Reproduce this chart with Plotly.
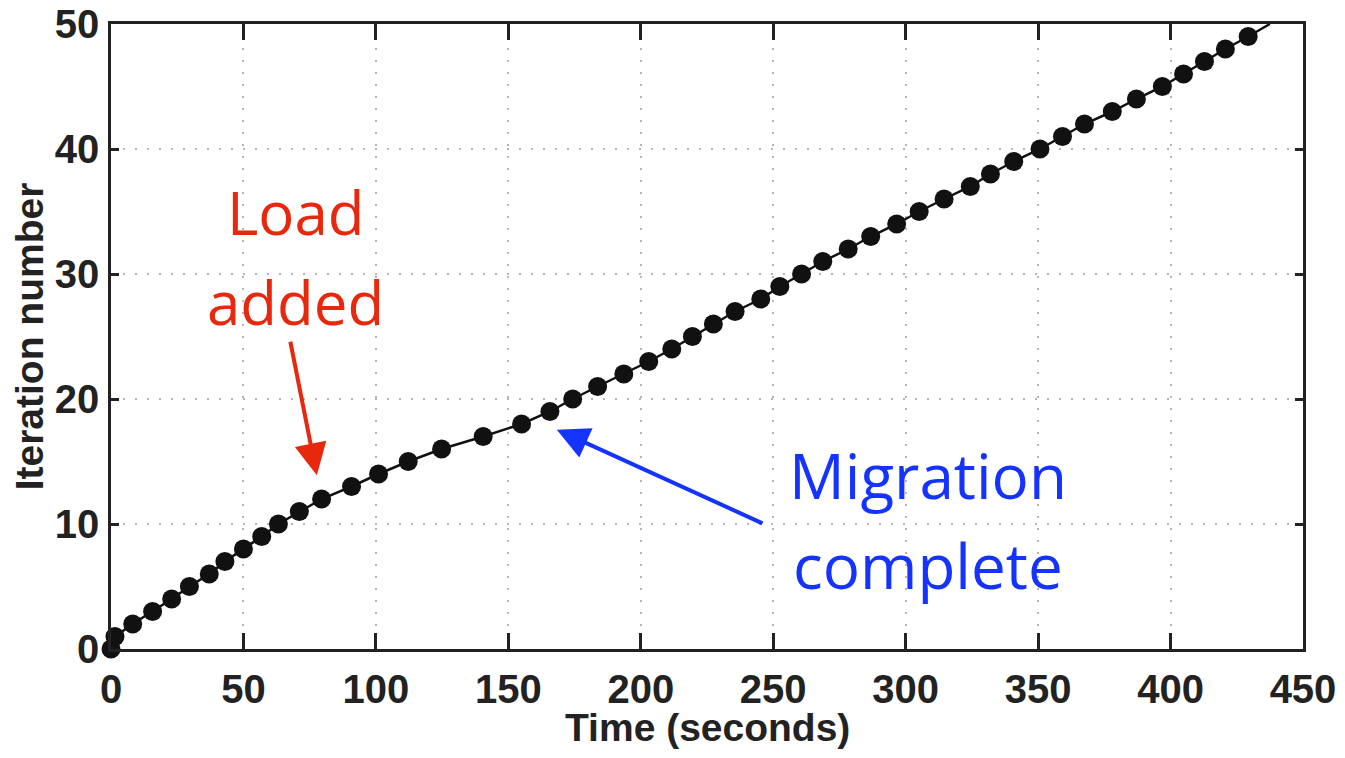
import plotly.graph_objects as go

# Data (iteration number vs time in seconds)
iterations = list(range(0, 51))
times = [0, 1.5, 8.2, 15.7, 22.9, 29.6, 37.1, 43.0, 50.0, 56.9,
         63.2, 71.1, 79.5, 90.8, 101.0, 112.2, 124.8, 140.5, 155.0, 165.7,
         174.3, 183.7, 193.6, 203.0, 211.7, 219.5, 227.4, 235.6, 245.3, 252.5,
         260.7, 268.7, 278.3, 286.8, 296.6, 305.1, 314.5, 324.4, 332.0, 340.8,
         350.7, 359.2, 367.5, 378.0, 387.1, 396.9, 404.9, 412.8, 420.7, 429.3,
         437.5]
n_marked = 50  # markers visible for iterations 0..49

x_ticks = [0, 50, 100, 150, 200, 250, 300, 350, 400, 450]
y_ticks = [0, 10, 20, 30, 40, 50]
x_title = "Time (seconds)"
y_title = "Iteration number"

AX_FONT = dict(family="Liberation Sans, Arial, sans-serif", size=40, color="#222222", weight="bold")
TITLE_FONT = dict(family="Liberation Sans, Arial, sans-serif", size=39, color="#222222", weight="bold")
HAND_FONT = "Open Sans, Lato, sans-serif"
RED = "#e8280c"
BLUE = "#1433ff"

fig = go.Figure()
fig.add_trace(go.Scatter(x=times, y=iterations, mode="lines",
                         line=dict(color="#111111", width=2.5),
                         cliponaxis=True, showlegend=False, hoverinfo="skip"))
fig.add_trace(go.Scatter(x=times[:n_marked], y=iterations[:n_marked], mode="markers",
                         marker=dict(color="#111111", size=19, symbol="circle"),
                         cliponaxis=False, showlegend=False))

axis_common = dict(showline=True, linecolor="#222222", linewidth=2.5, mirror="ticks",
                   ticks="inside", tickwidth=2.5, tickcolor="#222222",
                   showgrid=True, gridcolor="#b5b5b5", gridwidth=1.6, griddash="2px,10px",
                   zeroline=False, tickfont=AX_FONT, automargin=False,
                   ticklabeloverflow="allow")

fig.update_xaxes(range=[0, 450], tickvals=x_ticks, ticktext=[str(v) for v in x_ticks],
                 ticklen=16, ticklabelstandoff=3, **axis_common)
fig.update_yaxes(range=[0, 50], tickvals=y_ticks, ticktext=[str(v) for v in y_ticks],
                 ticklen=8, ticklabelstandoff=1,
                 title=dict(text=y_title, font=TITLE_FONT, standoff=9),
                 **axis_common)

# x-axis title placed as a paper annotation (so it can sit lower than the margin rule allows)
fig.add_annotation(x=0.5, y=0, xref="paper", yref="paper", text=x_title, showarrow=False,
                   font=TITLE_FONT, xanchor="center", yanchor="middle", yshift=-78)

# Hand-written style annotations
fig.add_annotation(x=69.8, y=35.0, xref="x", yref="y", text="Load", showarrow=False,
                   font=dict(family=HAND_FONT, size=60, color=RED), xanchor="center", yanchor="middle")
fig.add_annotation(x=69.8, y=27.8, xref="x", yref="y", text="added", showarrow=False,
                   font=dict(family=HAND_FONT, size=60, color=RED), xanchor="center", yanchor="middle")
fig.add_annotation(x=77.7, y=13.9, ax=67.6, ay=24.7, xref="x", yref="y", axref="x", ayref="y",
                   text="", showarrow=True, arrowhead=2, arrowsize=1.6, arrowwidth=4, arrowcolor=RED)

fig.add_annotation(x=308.5, y=13.9, xref="x", yref="y", text="Migration", showarrow=False,
                   font=dict(family=HAND_FONT, size=62, color=BLUE), xanchor="center", yanchor="middle")
fig.add_annotation(x=308.5, y=6.7, xref="x", yref="y", text="complete", showarrow=False,
                   font=dict(family=HAND_FONT, size=62, color=BLUE), xanchor="center", yanchor="middle")
fig.add_annotation(x=168.3, y=17.55, ax=246.5, ay=10.0, xref="x", yref="y", axref="x", ayref="y",
                   text="", showarrow=True, arrowhead=2, arrowsize=1.6, arrowwidth=4, arrowcolor=BLUE)

# The page body adds an 8 px offset, so the figure is sized to fit within the window
fig.update_layout(width=1329, height=742, autosize=False,
                  margin=dict(l=103, r=34, t=16, b=101),
                  paper_bgcolor="white", plot_bgcolor="white")

fig.write_html("out.html")
